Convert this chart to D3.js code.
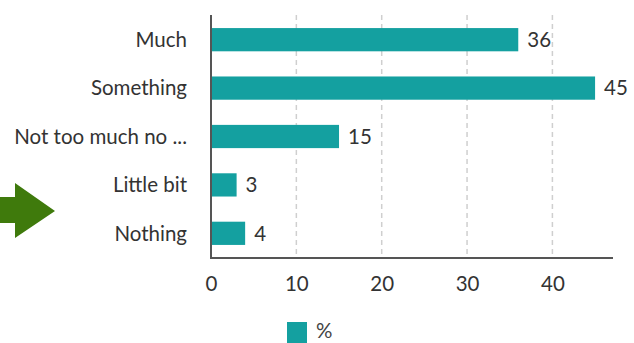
<!DOCTYPE html>
<html>
<head>
<meta charset="utf-8">
<script src="https://cdn.jsdelivr.net/npm/d3@7"></script>
<style>
  html, body { margin: 0; padding: 0; background: #fff; }
  svg { display: block; font-family: Lato, "Open Sans", sans-serif; }
</style>
</head>
<body>
<svg id="chart" width="634" height="343"></svg>
<script>
// Survey responses, share of respondents (%)
const categories = ["Much", "Something", "Not too much no ...", "Little bit", "Nothing"];
const values = [36, 45, 15, 3, 4];
const xTicks = [0, 10, 20, 30, 40];
const seriesName = "%";

const barColor = "#14a0a0";
const textColor = "#333";
const fontSize = 20.5;
const svg = d3.select("#chart");

const plotLeft = 211, plotRight = 613, plotTop = 15, plotBottom = 258;

const x = d3.scaleLinear().domain([0, 47.1]).range([plotLeft, plotRight]);
const y = d3.scaleBand().domain(categories).range([plotTop, plotBottom]).paddingInner(0.52).paddingOuter(0.27);

// dashed vertical gridlines
svg.append("g")
  .selectAll("line")
  .data(xTicks.filter(t => t > 0))
  .join("line")
  .attr("x1", d => x(d)).attr("x2", d => x(d))
  .attr("y1", plotTop).attr("y2", plotBottom)
  .attr("stroke", "#cfcfcf")
  .attr("stroke-width", 1.5)
  .attr("stroke-dasharray", "5,4");

// bars
svg.append("g")
  .selectAll("rect")
  .data(values)
  .join("rect")
  .attr("x", x(0))
  .attr("y", (d, i) => y(categories[i]))
  .attr("width", d => x(d) - x(0))
  .attr("height", y.bandwidth())
  .attr("fill", barColor);

// value labels
svg.append("g")
  .selectAll("text")
  .data(values)
  .join("text")
  .attr("x", d => x(d) + 9)
  .attr("y", (d, i) => y(categories[i]) + y.bandwidth() / 2)
  .attr("dy", "0.36em")
  .attr("font-size", fontSize)
  .attr("fill", textColor)
  .text(d => d);

// category labels
svg.append("g")
  .selectAll("text")
  .data(categories)
  .join("text")
  .attr("x", 187)
  .attr("y", d => y(d) + y.bandwidth() / 2)
  .attr("dy", "0.36em")
  .attr("text-anchor", "end")
  .attr("font-size", fontSize)
  .attr("fill", textColor)
  .text(d => d);

// axis lines
svg.append("path")
  .attr("d", `M${plotLeft},${plotTop}V${plotBottom}H${plotRight}`)
  .attr("fill", "none")
  .attr("stroke", "#555")
  .attr("stroke-width", 2);

// x axis tick labels
const xAxis = d3.axisBottom(x).tickValues(xTicks).tickSize(0).tickPadding(18);
const gx = svg.append("g").attr("transform", `translate(0,${plotBottom})`).call(xAxis);
gx.select(".domain").remove();
gx.selectAll("text")
  .attr("font-family", "Lato, 'Open Sans', sans-serif")
  .attr("font-size", fontSize)
  .attr("fill", textColor);

// legend
const legend = svg.append("g").attr("transform", "translate(287,322)");
legend.append("rect").attr("width", 20).attr("height", 21).attr("fill", barColor);
legend.append("text").attr("x", 29).attr("y", 16).attr("font-size", fontSize).attr("fill", "#444").text(seriesName);

// green arrow pointing at the chart
svg.append("path")
  .attr("d", "M-2,197 H15 V183 L55,211 L15,238 V223 H-2 Z")
  .attr("fill", "#3f7a0c");
</script>
</body>
</html>
